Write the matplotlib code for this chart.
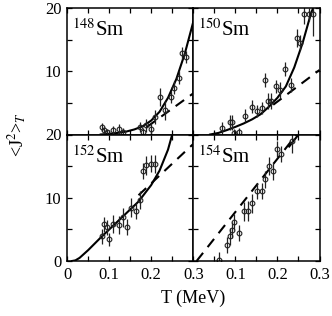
import matplotlib
matplotlib.use("Agg")
import matplotlib.pyplot as plt
from matplotlib.ticker import MultipleLocator

plt.rcParams['font.family'] = 'Liberation Serif'
plt.rcParams['mathtext.fontset'] = 'stix'

# 148Sm
t148 = [0.082, 0.0875, 0.094, 0.1095, 0.123, 0.132, 0.173, 0.180, 0.188,
        0.199, 0.208, 0.220, 0.234, 0.248, 0.255, 0.266, 0.274, 0.283]
j148 = [1.15, 0.75, 0.35, 0.75, 0.9, 0.35, 1.25, 0.35, 1.45,
        0.9, 2.75, 5.9, 3.8, 6.0, 7.4, 9.0, 12.9, 12.3]
e148 = [0.6, 0.5, 0.5, 0.6, 0.8, 0.6, 0.8, 0.7, 1.0,
        0.9, 1.1, 1.45, 1.5, 0.95, 1.0, 1.0, 0.95, 0.95]
solid148_t = [0.08, 0.10, 0.12, 0.14, 0.16, 0.18, 0.20, 0.22, 0.24, 0.26, 0.28, 0.30]
solid148_j = [0.0, 0.1, 0.25, 0.45, 0.8, 1.3, 2.2, 3.6, 5.8, 8.8, 12.8, 17.8]
dash148_t = [0.19, 0.30]
dash148_j = [1.2, 6.5]

# 150Sm
t150 = [0.068, 0.087, 0.092, 0.098, 0.108, 0.122, 0.140, 0.151, 0.163, 0.171, 0.178,
        0.185, 0.197, 0.206, 0.219, 0.233, 0.246, 0.254, 0.264, 0.275, 0.284]
j150 = [1.05, 1.95, 1.95, 0.3, 0.35, 3.0, 4.4, 3.7, 4.2, 8.6, 5.3,
        5.3, 7.6, 7.0, 10.3, 7.8, 15.3, 14.5, 19.0, 19.0, 19.0]
e150 = [0.9, 1.2, 1.2, 0.6, 0.6, 1.0, 1.0, 0.9, 0.9, 1.1, 1.2,
        1.2, 1.0, 1.3, 1.1, 1.1, 1.4, 1.2, 1.5, 1.0, 3.5]
solid150_t = [0.04, 0.06, 0.08, 0.10, 0.12, 0.14, 0.16, 0.18, 0.20, 0.22, 0.24, 0.26, 0.28, 0.285]
solid150_j = [0.0, 0.25, 0.7, 1.2, 1.75, 2.4, 3.2, 4.4, 5.8, 7.6, 10.6, 14.5, 19.2, 20.0]
dash150_t = [0.19, 0.30]
dash150_j = [4.7, 10.2]

# 152Sm
t152 = [0.082, 0.088, 0.094, 0.099, 0.1095, 0.124, 0.132, 0.143, 0.153, 0.165,
        0.173, 0.180, 0.188, 0.199, 0.208]
j152 = [3.9, 5.8, 5.3, 3.4, 5.9, 5.7, 6.9, 5.4, 8.45, 7.9,
        9.7, 14.2, 15.1, 15.4, 15.3]
e152 = [1.2, 1.2, 1.2, 1.0, 1.4, 1.4, 1.5, 1.3, 1.5, 1.3,
        1.4, 1.3, 1.5, 1.4, 1.4]
solid152_t = [0.012, 0.02, 0.03, 0.05, 0.08, 0.11, 0.14, 0.17, 0.20, 0.22, 0.24, 0.25]
solid152_j = [0.0, 0.1, 0.5, 1.7, 3.7, 5.6, 7.5, 9.4, 12.0, 14.3, 17.6, 20.0]
dash152_t = [0.17, 0.30]
dash152_j = [10.4, 18.5]

# 154Sm
t154 = [0.060, 0.080, 0.087, 0.092, 0.098, 0.108, 0.121, 0.131, 0.140, 0.152,
        0.164, 0.171, 0.179, 0.189, 0.198, 0.209, 0.235]
j154 = [0.15, 2.5, 3.9, 4.9, 6.2, 4.45, 7.9, 7.9, 9.1, 11.1,
        11.1, 12.9, 15.0, 14.2, 17.7, 16.9, 18.9]
e154 = [1.3, 1.3, 1.3, 1.2, 1.3, 1.3, 1.5, 1.6, 1.5, 1.3,
        1.3, 1.4, 1.4, 1.4, 1.3, 1.3, 1.8]
solid154_t = [0.228, 0.256]
solid154_j = [18.1, 20.5]
dash154_t = [0.008, 0.248]
dash154_j = [0.0, 20.2]

panels = [
    ("148", t148, j148, e148, solid148_t, solid148_j, dash148_t, dash148_j),
    ("150", t150, j150, e150, solid150_t, solid150_j, dash150_t, dash150_j),
    ("152", t152, j152, e152, solid152_t, solid152_j, dash152_t, dash152_j),
    ("154", t154, j154, e154, solid154_t, solid154_j, dash154_t, dash154_j),
]

fig, axes = plt.subplots(2, 2, figsize=(3.32, 3.16), dpi=100)
fig.subplots_adjust(left=67 / 332, right=319.5 / 332, bottom=1 - 261 / 316,
                    top=1 - 8 / 316, wspace=0, hspace=0)

for k, (ax, p) in enumerate(zip(axes.flat, panels)):
    mass, t, j, e, st, sj, dt, dj = p
    ax.plot(st, sj, color='black', lw=1.5)
    ax.plot(dt, dj, color='black', lw=1.5, dashes=(5, 3.5))
    ax.errorbar(t, j, yerr=e, fmt='o', ms=3.4, mfc='none', mec='#222222',
                mew=0.8, ecolor='#222222', elinewidth=0.9, capsize=0)
    ax.xaxis.set_major_locator(MultipleLocator(0.1))
    ax.xaxis.set_minor_locator(MultipleLocator(0.05))
    ax.yaxis.set_major_locator(MultipleLocator(10))
    ax.yaxis.set_minor_locator(MultipleLocator(5))
    ax.tick_params(which='both', direction='in', top=True, right=True,
                   length=3.5, width=0.9, labelsize=12, pad=4)
    for s in ax.spines.values():
        s.set_linewidth(1.1)
    # isotope label: superscript mass number, then Sm
    ax.text(0.04, 0.91, r'$^{%s}$Sm' % mass, transform=ax.transAxes,
            fontsize=15, ha='left', va='top')
    row, col = divmod(k, 2)
    if row == 0:
        ax.set_xticklabels([])
        ax.set_yticks([10, 20])
    else:
        if col == 1:
            ax.set_xticks([0.1, 0.2, 0.3])
            ax.set_xticklabels(['0.1', '0.2', '0.3'])
        else:
            ax.set_xticks([0, 0.1, 0.2, 0.3])
            ax.set_xticklabels(['0', '0.1', '0.2', '0.3'])
    if col == 1:
        ax.set_yticklabels([])
    ax.set_xlim(0, 0.3)
    ax.set_ylim(0, 20)

fig.text(193 / 332, 1 - 298 / 316, 'T (MeV)', fontsize=13, ha='center', va='center')
fig.text(18 / 332, 1 - 135 / 316, r'<J$^{2}$>$_{T}$', fontsize=13, rotation=90,
         ha='center', va='center')

fig.savefig("out.png", dpi=100)
